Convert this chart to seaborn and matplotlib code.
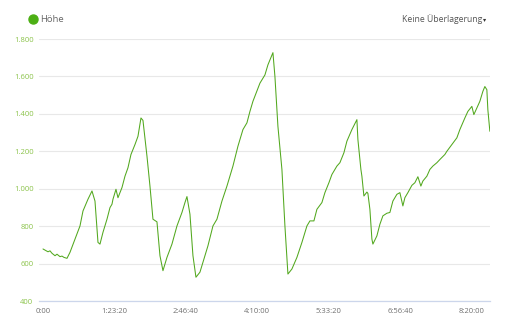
import matplotlib
matplotlib.use("Agg")
import matplotlib.pyplot as plt
import seaborn as sns
import pandas as pd
from matplotlib.ticker import FixedLocator
from matplotlib.lines import Line2D

# elapsed time (s) and altitude (m)
time_s = [0, 350, 490, 630, 840, 980, 1190, 1330, 1470, 1610, 1680, 1890, 2240, 2590, 2800,
          3150, 3430, 3640, 3850, 3990, 4200, 4480, 4690, 4830, 4900, 5110, 5250, 5530, 5740,
          5950, 6160, 6440, 6650, 6860, 7000, 7280, 7490, 7700, 7980, 8190, 8400, 8680, 9030,
          9380, 9730, 9940, 10080, 10290, 10500, 10710, 10990, 11340, 11550, 11900, 12180,
          12530, 12880, 13300, 13650, 14000, 14280, 14490, 14700, 15190, 15540, 15750, 16100,
          16240, 16450, 16730, 16940, 17150, 17430, 17780, 18130, 18480, 18690, 18970, 19180,
          19530, 19740, 20020, 20230, 20580, 20790, 21070, 21280, 21630, 21980, 22050, 22260,
          22330, 22470, 22680, 22750, 22890, 23030, 23100, 23380, 23590, 23800, 24080, 24290,
          24500, 24780, 24990, 25200, 25340, 25550, 25830, 26040, 26250, 26460, 26600, 26880,
          27090, 27300, 27580, 27790, 28140, 28280, 28630, 28980, 29190, 29540, 29750, 30030,
          30170, 30380, 30590, 30800, 30940, 31080, 31150, 31290]
hoehe = [678, 663, 668, 655, 642, 650, 637, 640, 633, 630, 628, 660, 731, 801, 881,
         944, 988, 934, 713, 704, 767, 837, 899, 917, 944, 997, 952, 1006, 1067,
         1112, 1183, 1236, 1280, 1378, 1365, 1174, 1014, 837, 823, 642, 562, 633, 704,
         801, 873, 926, 958, 864, 642, 527, 554, 642, 695, 801, 837,
         934, 1014, 1121, 1227, 1316, 1352, 1413, 1467, 1564, 1608, 1662, 1727,
         1600, 1333, 1103, 801, 544, 571, 633, 713, 801, 828, 828, 890,
         926, 979, 1032, 1076, 1121, 1139, 1192, 1254, 1316, 1369, 1263, 1103,
         1067, 961, 982, 975, 890, 731, 704, 748, 810, 855, 869, 873,
         934, 970, 979, 908, 952, 979, 1018, 1032, 1064, 1014, 1041, 1067,
         1103, 1121, 1139, 1156, 1183, 1200, 1236, 1272, 1316, 1378, 1413, 1440,
         1396, 1431, 1467, 1520, 1546, 1529, 1422, 1307]

x_ticks = [0, 5000, 10000, 15000, 20000, 25000, 30000]
x_tick_labels = ["0:00", "1:23:20", "2:46:40", "4:10:00", "5:33:20", "6:56:40", "8:20:00"]
y_ticks = [400, 600, 800, 1000, 1200, 1400, 1600, 1800]
y_tick_labels = ["400", "600", "800", "1.000", "1.200", "1.400", "1.600", "1.800"]
series_name = "Höhe"
overlay_label = "Keine Überlagerung"

df = pd.DataFrame({"t": time_s, "h": hoehe})

sns.set_theme(style="white")
plt.rcParams["font.family"] = ["Open Sans", "DejaVu Sans"]

fig = plt.figure(figsize=(5.12, 3.2), dpi=100)
ax = fig.add_axes([39 / 512, 1 - 301 / 320, (490 - 39) / 512, (301 - 39) / 320])

green = "#52a81e"
sns.lineplot(data=df, x="t", y="h", ax=ax, color=green, linewidth=0.75)

ax.set_xlim(-280, 31300)
ax.set_ylim(400, 1800)
ax.xaxis.set_major_locator(FixedLocator(x_ticks))
ax.set_xticklabels(x_tick_labels)
ax.yaxis.set_major_locator(FixedLocator(y_ticks))
ax.set_yticklabels(y_tick_labels)
ax.set_xlabel("")
ax.set_ylabel("")

ax.grid(axis="y", color="#e8e8e8", linewidth=0.8)
ax.grid(axis="x", visible=False)
for s in ["left", "right", "top"]:
    ax.spines[s].set_visible(False)
ax.spines["bottom"].set_color("#ccd6eb")
ax.spines["bottom"].set_linewidth(0.9)
ax.set_axisbelow(True)

ax.tick_params(axis="y", length=0, pad=4, labelsize=5.5, labelcolor="#8bc34a")
ax.tick_params(axis="x", length=0, pad=5, labelsize=5.5, labelcolor="#707070")

# legend / header
fig.add_artist(Line2D([33 / 512], [1 - 19 / 320], transform=fig.transFigure,
                      marker="o", markersize=6.5, color="#4caf14", linestyle="none"))
fig.text(40 / 512, 1 - 19 / 320, series_name, fontsize=6.8, color="#666666",
         va="center", ha="left")
fig.text(482 / 512, 1 - 19 / 320, overlay_label, fontsize=6.2, color="#555555",
         va="center", ha="right")
fig.text(483 / 512, 1 - 20 / 320, "▾", fontsize=4.5, color="#333333",
         va="center", ha="left", family=["DejaVu Sans"])

fig.savefig("out.png", dpi=100)
